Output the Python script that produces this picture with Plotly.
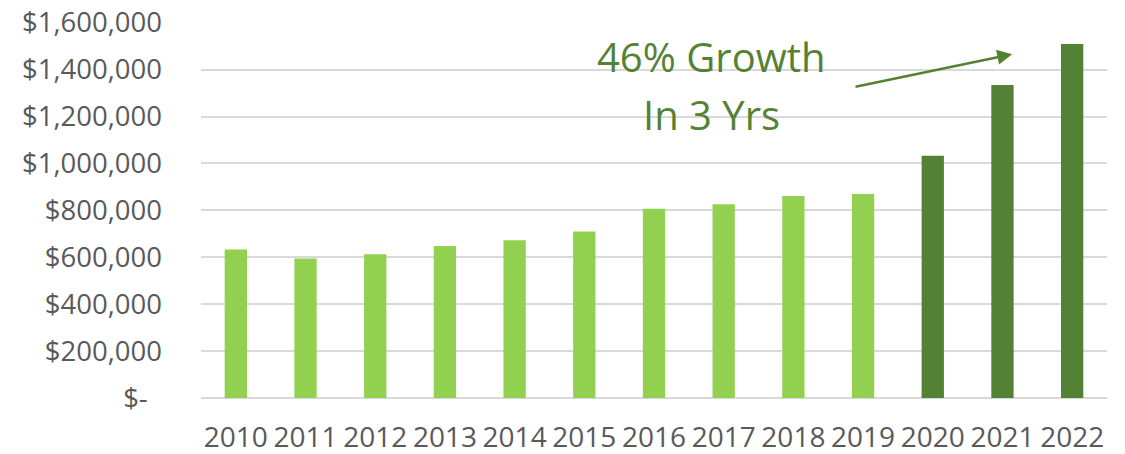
import plotly.graph_objects as go

years = ["2010", "2011", "2012", "2013", "2014", "2015", "2016",
         "2017", "2018", "2019", "2020", "2021", "2022"]
values = [633000, 595000, 613000, 648000, 673000, 710000, 807000,
          826000, 861000, 870000, 1033000, 1334000, 1509000]
highlight = [False] * 10 + [True] * 3
tick_vals = [0, 200000, 400000, 600000, 800000, 1000000, 1200000, 1400000, 1600000]
tick_text = ["$-\u00a0\u00a0", "$200,000", "$400,000", "$600,000", "$800,000",
             "$1,000,000", "$1,200,000", "$1,400,000", "$1,600,000"]

LIGHT = "#92D050"
DARK = "#548235"
TEXT = "#595959"
GRID = "#D9D9D9"
FONT = "Open Sans"

colors = [DARK if h else LIGHT for h in highlight]

fig = go.Figure(go.Bar(x=years, y=values, marker=dict(color=colors, line=dict(width=0))))

fig.update_layout(
    width=1125, height=454,
    margin=dict(l=201, r=18, t=22, b=56, autoexpand=False),
    plot_bgcolor="white", paper_bgcolor="white",
    bargap=0.68,
    showlegend=False,
    font=dict(family=FONT, color=TEXT),
)
fig.update_xaxes(
    type="category", showgrid=False, ticks="", showline=False, automargin=False,
    tickfont=dict(size=28, color=TEXT, family=FONT),
    ticklabelstandoff=20,
)
fig.update_yaxes(
    range=[0, 1603000], tickvals=tick_vals, ticktext=tick_text, automargin=False,
    showgrid=True, gridcolor=GRID, gridwidth=1.5,
    zeroline=True, zerolinecolor=GRID, zerolinewidth=1.5,
    showline=False, ticks="", ticklabeloverflow="allow",
    tickfont=dict(size=27.5, color=TEXT, family=FONT),
    ticklabelstandoff=38,
)

fig.add_annotation(
    x=6.82, y=1455000, xref="x", yref="y",
    text="46% Growth", showarrow=False,
    font=dict(size=40, color=DARK, family=FONT),
    xanchor="center", yanchor="middle",
)
fig.add_annotation(
    x=6.83, y=1208000, xref="x", yref="y",
    text="In 3 Yrs", showarrow=False,
    font=dict(size=40, color=DARK, family=FONT),
    xanchor="center", yanchor="middle",
)
fig.add_annotation(
    x=11.14, y=1466000, ax=8.87, ay=1326000,
    xref="x", yref="y", axref="x", ayref="y",
    text="", showarrow=True, arrowhead=2, arrowsize=1.2,
    arrowwidth=2.5, arrowcolor=DARK,
)

fig.write_html(
    "out.html",
    config={"displayModeBar": False},
    post_script="document.body.style.margin='0';document.body.style.overflow='hidden';",
)
